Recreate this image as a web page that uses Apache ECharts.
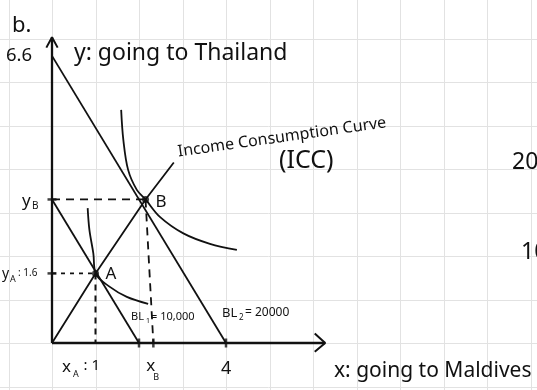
<!DOCTYPE html>
<html>
<head>
<meta charset="utf-8">
<style>
  html, body { margin: 0; padding: 0; background: #fff; }
  #chart { width: 537px; height: 390px; }
</style>
<script src="https://cdn.jsdelivr.net/npm/echarts@6/dist/echarts.min.js"></script>
</head>
<body>
<div id="chart"></div>
<script>
// Income consumption curve: two budget lines, two indifference curves, optima A and B.

// Budget lines (x: Maldives trips, y: Thailand trips)
const budgetLine1 = [[0, 3.3], [2, 0]];     // BL1 = 10,000
const budgetLine2 = [[0, 6.6], [4, 0]];     // BL2 = 20000
// Optimal bundles
const pointA = [1, 1.6];
const pointB = [2.15, 3.3];
// Income consumption curve through the optima
const iccCurve = [[0, 0], [1, 1.6], [2.15, 3.3], [2.8, 4.15]];
// Indifference curves tangent at A and B
const indiff1 = [[0.82, 3.1], [0.86, 2.6], [0.95, 2.06], [1, 1.6], [1.33, 1.29], [1.72, 1.06], [2.21, 0.9]];
const indiff2 = [[1.59, 5.36], [1.64, 4.67], [1.75, 3.98], [1.95, 3.52], [2.15, 3.3], [2.48, 2.9], [3.02, 2.52], [3.63, 2.28], [4.25, 2.14]];
// Tick marks on the axes
const xTicks = [2, 2.33, 4];
const yTicks = [3.3, 1.6];
const xBFoot = 2.33;     // foot of the dashed drop from B
// Axis extents
const xAxisEnd = 6.28;
const yAxisEnd = 7.03;

const INK = '#111';
const FONT = 'Noto Sans';
const LW = 1.8;

const chart = echarts.init(document.getElementById('chart'), null, { renderer: 'canvas' });

function lineSeries(data, opts) {
  return Object.assign({
    type: 'line',
    data: data,
    symbol: 'none',
    silent: true,
    animation: false,
    clip: false,
    lineStyle: { color: INK, width: LW },
    z: 3
  }, opts || {});
}

const dashed = (pattern, w) => ({ lineStyle: { color: INK, width: w || LW, type: pattern } });

const series = [
  // axes
  lineSeries([[0, 0], [0, yAxisEnd]], { lineStyle: { color: INK, width: 2.3 } }),
  lineSeries([[-0.13, yAxisEnd - 0.24], [0, yAxisEnd], [0.13, yAxisEnd - 0.24]], { lineStyle: { color: INK, width: 2 } }),
  lineSeries([[0, 0], [xAxisEnd, 0]], { lineStyle: { color: INK, width: 2.3 } }),
  lineSeries([[xAxisEnd - 0.24, 0.22], [xAxisEnd, 0], [xAxisEnd - 0.24, -0.2]], { lineStyle: { color: INK, width: 2 } }),
  // budget lines
  lineSeries(budgetLine1),
  lineSeries(budgetLine2),
  // income consumption curve
  lineSeries(iccCurve),
  // indifference curves
  lineSeries(indiff1, { smooth: 0.35 }),
  lineSeries(indiff2, { smooth: 0.35 }),
  // dashed guides
  lineSeries([[0, pointB[1]], pointB], dashed([8, 6])),
  lineSeries([pointB, [xBFoot, 0]], dashed([8, 6])),
  lineSeries([[0, pointA[1]], pointA], dashed([4, 5])),
  lineSeries([pointA, [pointA[0], 0]], dashed([6, 5], 2)),
  // optima
  {
    type: 'scatter',
    data: [pointA, pointB],
    symbol: 'circle',
    symbolSize: 7,
    itemStyle: { color: INK },
    silent: true,
    animation: false,
    z: 5
  },
  // axis tick marks
  {
    type: 'scatter',
    data: xTicks.map(v => [v, 0]),
    symbol: 'rect',
    symbolSize: [2.5, 9],
    itemStyle: { color: INK },
    silent: true,
    animation: false,
    z: 5
  },
  {
    type: 'scatter',
    data: yTicks.map(v => [0, v]),
    symbol: 'rect',
    symbolSize: [9, 2.5],
    itemStyle: { color: INK },
    silent: true,
    animation: false,
    z: 5
  }
];

chart.setOption({
  backgroundColor: '#ffffff',
  animation: false,
  grid: { left: 8.5, right: 6.5, top: 38.5, bottom: 3.5, containLabel: false },
  xAxis: {
    type: 'value', min: -1, max: 11, interval: 1,
    axisLine: { show: false }, axisTick: { show: false }, axisLabel: { show: false },
    splitLine: { show: false }
  },
  yAxis: {
    type: 'value', min: -1, max: 7, interval: 1,
    axisLine: { show: false }, axisTick: { show: false }, axisLabel: { show: false },
    splitLine: { show: false }
  },
  series: series
});

const px = (pt) => chart.convertToPixel({ gridIndex: 0 }, pt);
const W = chart.getWidth(), H = chart.getHeight();

// Grid paper: one square per unit, running across the whole page
const paper = [];
for (let k = -2; k <= 12; k++) {
  const gx = Math.round(px([k, 0])[0]) + 0.5;
  if (gx >= 0 && gx <= W) {
    paper.push({ type: 'line', silent: true, z: -10, shape: { x1: gx, y1: 0, x2: gx, y2: H }, style: { stroke: '#e2e2e2', lineWidth: 1 } });
  }
}
for (let k = -2; k <= 9; k++) {
  const gy = Math.round(px([0, k])[1]) + 0.5;
  if (gy >= 0 && gy <= H) {
    paper.push({ type: 'line', silent: true, z: -10, shape: { x1: 0, y1: gy, x2: W, y2: gy }, style: { stroke: '#e2e2e2', lineWidth: 1 } });
  }
}

// Annotation text
function txt(text, x, y, size, extra) {
  return Object.assign({
    type: 'text',
    x: x, y: y,
    silent: true,
    z: 10,
    style: Object.assign({
      text: text,
      font: size + 'px "' + FONT + '"',
      fill: INK,
      align: 'left',
      verticalAlign: 'middle'
    }, (extra && extra.style) || {})
  }, extra ? { rotation: extra.rotation || 0 } : {});
}

const pA = px(pointA), pB = px(pointB);
const yBpx = px([0, pointB[1]]), yApx = px([0, pointA[1]]);
const xApx = px([pointA[0], 0]), xBpx = px([xBFoot, 0]), x4px = px([budgetLine2[1][0], 0]);
const y66px = px([0, budgetLine2[0][1]]);

chart.setOption({
  graphic: paper.concat([
    txt('b.', 12, 26, 22),
    txt('6.6', 6, y66px[1], 18.5),
    txt('y: going to Thailand', 74, 53, 23),
    txt('Income Consumption Curve', 179, 160, 16, { rotation: 0.14, style: { verticalAlign: 'bottom' } }),
    txt('(ICC)', 279, 161, 25),
    txt('20', 512, 162, 23),
    txt('10', 521, 252, 23),
    // y-axis labels
    txt('y', 22, yBpx[1] + 2, 17),
    txt('B', 32, yBpx[1] + 7, 10),
    txt('y', 2, yApx[1] + 1, 14),
    txt('A', 10, yApx[1] + 6, 9),
    txt(': 1.6', 18, yApx[1], 10),
    // point labels
    txt('A', pA[0] + 10, pA[1] + 1, 17),
    txt('B', pB[0] + 10, pB[1] + 3, 17),
    // budget line labels
    txt('BL', 131, 317, 11),
    txt('1', 146, 321, 7),
    txt('= 10,000', 151, 317, 11),
    txt('BL', 222, 313, 13),
    txt('2', 239, 318, 8),
    txt('= 20000', 245, 313, 12),
    // x-axis labels
    txt('x', 62, 367, 17),
    txt('A', 73, 374, 9),
    txt(': 1', xApx[0] - 12, 366, 15),
    txt('x', xBpx[0] - 7, 366, 17),
    txt('B', xBpx[0] + 0, 377, 9),
    txt('4', x4px[0] - 5, 369, 18),
    txt('x: going to Maldives', 334, 371, 21)
  ])
});
</script>
</body>
</html>
